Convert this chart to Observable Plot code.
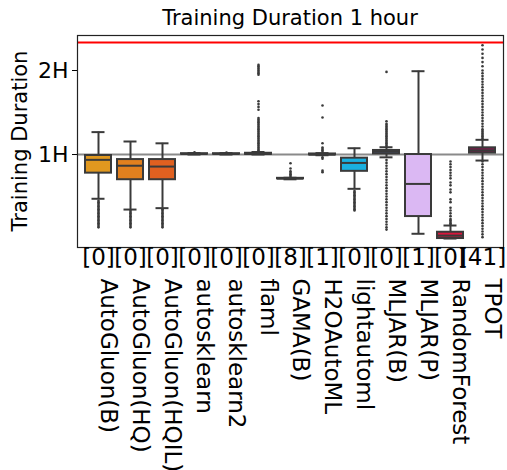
<!DOCTYPE html>
<html>
<head>
<meta charset="utf-8">
<script src="https://cdn.jsdelivr.net/npm/d3@7"></script>
<script src="https://cdn.jsdelivr.net/npm/@observablehq/plot@0.6"></script>
<style>
  body { margin: 0; background: white; font-family: "DejaVu Sans", sans-serif; }
  #title { position: absolute; left: 76px; width: 428px; top: 6px; text-align: center; font-size: 21px; }
</style>
</head>
<body>
<div id="title">Training Duration 1 hour</div>
<div id="chart"></div>
<script>
// values in minutes
const frameworks = ["AutoGluon(B)", "AutoGluon(HQ)", "AutoGluon(HQIL)", "autosklearn", "autosklearn2", "flaml",
  "GAMA(B)", "H2OAutoML", "lightautoml", "MLJAR(B)", "MLJAR(P)", "RandomForest", "TPOT"];
const failures = [0, 0, 0, 0, 0, 0, 8, 1, 0, 0, 1, 0, 41];
const colors = ["#e0981f", "#e2801e", "#e06020", "#e8d040", "#c8d040", "#80c040",
  "#40b080", "#30b0b0", "#1ab0e0", "#6080e0", "#dbb8f3", "#d8163c", "#7a1b4a"];
const whiskerLow = [28.4, 20.7, 21.7, 60.0, 60.0, 60.0, 42.3, 59.5, 35.5, 58.0, 3.4, 0.0, 55.7];
const q1 = [46.7, 42.0, 42.0, 60.2, 60.2, 60.1, 42.6, 59.7, 48.0, 60.5, 15.7, 0.0, 61.0];
const median = [56.2, 52.0, 51.4, 60.4, 60.4, 60.4, 42.8, 60.0, 54.0, 62.0, 39.0, 2.1, 62.9];
const q3 = [59.3, 56.4, 56.4, 60.6, 60.6, 60.9, 43.0, 60.4, 57.4, 62.9, 60.0, 4.5, 64.8];
const whiskerHigh = [76.0, 69.3, 68.0, 61.0, 61.0, 61.8, 43.4, 61.0, 64.5, 65.2, 119.5, 9.3, 70.5];
const outliers = [
  [8, 9, 10, 11, 12, 13, 14, 15, 16, 17, 18, 19, 20, 21, 22, 23, 24, 25, 26, 27],
  [8, 9, 10, 11, 12, 13, 14, 15, 16, 17, 18, 19, 20],
  [8, 9, 10, 11, 12, 13, 14, 15, 16, 17, 18, 19, 20, 21],
  [61.5],
  [61.4],
  [62, 63, 64, 65, 66, 67, 68, 69, 70, 71, 72, 73, 74, 75, 76, 77, 78, 79, 80, 81, 82, 83, 84, 85, 86,
    92, 94, 96, 98, 117, 118, 119, 120, 121, 122, 123, 124],
  [44, 45, 46, 47, 48, 50, 53.8],
  [47.4, 48.5, 57, 58, 62, 63, 64, 65, 68, 86.4, 95],
  [20, 21, 22, 23, 24, 25, 26, 27, 28, 29, 30, 31, 32, 33, 34],
  [6.4, 8, 10, 12, 14, 16, 18, 20, 22, 24, 26, 28, 30, 32, 34, 36, 38, 40, 42, 44, 46, 48, 50, 52, 54, 56,
    66, 67, 68, 69, 70, 71, 72, 73, 74, 75, 76, 77, 78, 79, 80, 81, 82, 83.8, 119],
  [],
  [10, 11, 12, 13, 14, 16, 18, 20, 22, 26, 28, 33, 35, 38, 40, 43, 45, 47, 49, 51, 53, 55],
  [1, 3, 5, 7, 9, 11, 13, 15, 17, 19, 21, 23, 25, 27, 29, 31, 33, 35, 37, 39, 41, 43, 45, 47, 49, 51, 53, 55,
    71, 72, 73, 74, 75, 76, 77, 78, 80, 82, 84, 86, 88, 90, 92, 94, 96, 98, 100, 102, 104, 106, 108, 110,
    112, 114, 116, 118, 120, 123, 126, 129, 132, 135, 138]
];
const limitMinutes = 140;
const yTicks = [60, 120];
const yTickLabels = ["1H", "2H"];

const boxes = frameworks.map((name, i) => ({
  name, color: colors[i], lo: whiskerLow[i], q1: q1[i], med: median[i], q3: q3[i], hi: whiskerHigh[i], fail: failures[i]
}));
const points = frameworks.flatMap((name, i) => outliers[i].map((v) => ({ name, v })));
const edge = "#3a3a3a";

const chart = Plot.plot({
  width: 507,
  height: 470,
  marginLeft: 77,
  marginRight: 4,
  marginTop: 35,
  marginBottom: 223,
  style: { fontFamily: "DejaVu Sans, sans-serif", fontSize: "22px", color: "black", overflow: "visible" },
  x: { type: "band", domain: frameworks, padding: 0.2, axis: null },
  y: { domain: [-6.4, 145], ticks: yTicks, tickFormat: (d, i) => yTickLabels[i], label: null, tickSize: 5 },
  marks: [
    Plot.ruleY([60], { stroke: "#8a8a8a", strokeWidth: 2 }),
    Plot.ruleY([limitMinutes], { stroke: "red", strokeWidth: 2 }),
    Plot.ruleX(boxes, { x: "name", y1: "lo", y2: "hi", stroke: edge, strokeWidth: 2 }),
    Plot.tickY(boxes, { x: "name", y: "lo", stroke: edge, strokeWidth: 2, insetLeft: 6.5, insetRight: 6.5 }),
    Plot.tickY(boxes, { x: "name", y: "hi", stroke: edge, strokeWidth: 2, insetLeft: 6.5, insetRight: 6.5 }),
    Plot.barY(boxes, { x: "name", y1: "q1", y2: "q3", fill: "color", stroke: edge, strokeWidth: 2 }),
    Plot.tickY(boxes, { x: "name", y: "med", stroke: edge, strokeWidth: 2 }),
    Plot.dot(points, { x: "name", y: "v", r: 1.3, fill: edge }),
    Plot.frame({ stroke: "#222", strokeWidth: 1.2 }),
    Plot.text(boxes, { x: "name", frameAnchor: "bottom", dy: 17, text: (d) => `[${d.fail}]`, fontSize: 23 }),
    Plot.text(boxes, { x: "name", frameAnchor: "bottom", dy: 31, dx: 2, rotate: 90, textAnchor: "start", text: "name", fontSize: 23 })
  ]
});
document.getElementById("chart").appendChild(chart);

const yl = document.createElementNS("http://www.w3.org/2000/svg", "text");
yl.setAttribute("transform", "translate(27,141) rotate(-90)");
yl.setAttribute("text-anchor", "middle");
yl.setAttribute("font-size", "21");
yl.setAttribute("fill", "black");
yl.textContent = "Training Duration";
chart.appendChild(yl);
</script>
</body>
</html>
